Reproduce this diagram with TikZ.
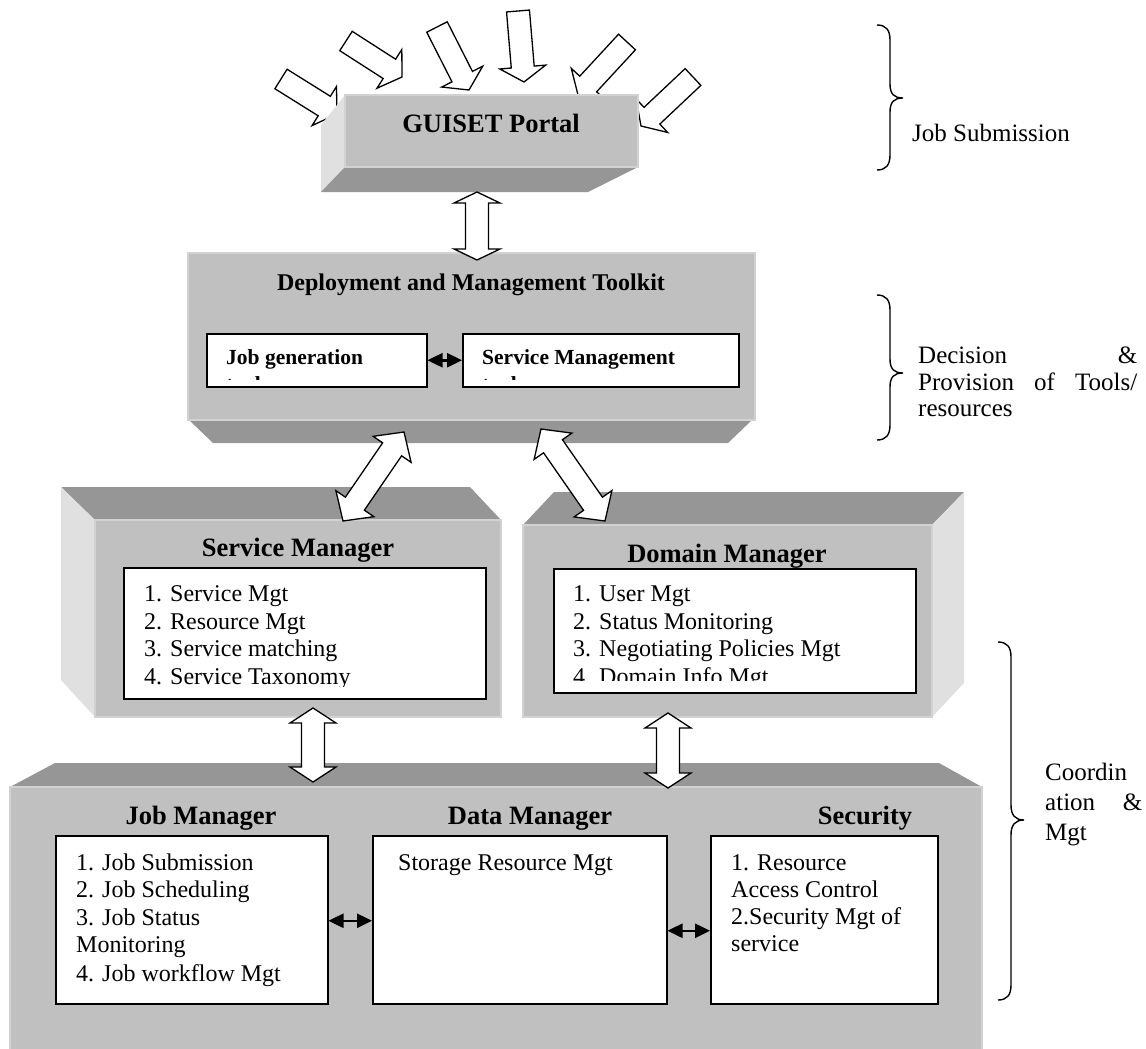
\documentclass[tikz,border=0pt]{standalone}
\usepackage{fontspec}
\setmainfont{Liberation Serif}
\usetikzlibrary{calc,arrows.meta}

\definecolor{facefront}{RGB}{192,192,192}
\definecolor{facedark}{RGB}{150,150,150}
\definecolor{facelight}{RGB}{224,224,224}
\definecolor{faceedge}{RGB}{210,210,210}

\tikzset{
  front/.style={fill=facefront, draw=faceedge, line width=1.2pt},
  darkface/.style={fill=facedark},
  lightface/.style={fill=facelight},
  listbox/.style={draw=black, fill=white, line width=1.5pt, inner sep=0pt, anchor=north west},
  blockarrow/.style={draw=black, fill=white, line width=1.3pt, line join=miter},
  linkarrow/.style={line width=2.5pt, {Triangle[length=15pt,width=14pt]}-{Triangle[length=15pt,width=14pt]}},
  brace/.style={line width=1.4pt},
  body/.style={font=\fontsize{24}{27.5}\selectfont, inner sep=0pt, anchor=base west},
  side/.style={font=\fontsize{25}{28}\selectfont, inner sep=0pt, anchor=base west},
  head/.style={font=\fontsize{26.5}{30}\selectfont\bfseries, inner sep=0pt, anchor=base},
  subhead/.style={font=\fontsize{21.5}{25}\selectfont\bfseries, inner sep=0pt, anchor=base west},
}

% single block arrow from a tail coordinate to a tip coordinate
\newcommand{\inarrow}[2]{%
  \coordinate (ah) at ($(#2)!15pt!(#1)$);
  \draw[blockarrow] ($(#1)!11.5pt!90:(#2)$) -- ($(ah)!11.5pt!90:(#2)$)
    -- ($(ah)!23pt!90:(#2)$) -- (#2) -- ($(ah)!23pt!-90:(#2)$)
    -- ($(ah)!11.5pt!-90:(#2)$) -- ($(#1)!11.5pt!-90:(#2)$) -- cycle;
}
% double-headed block arrow between two coordinates, #3 = head length
\newcommand{\twoway}[3]{%
  \coordinate (ha) at ($(#1)!#3!(#2)$);
  \coordinate (hb) at ($(#2)!#3!(#1)$);
  \draw[blockarrow] (#1) -- ($(ha)!23pt!90:(#2)$) -- ($(ha)!11.5pt!90:(#2)$)
    -- ($(hb)!11.5pt!-90:(#1)$) -- ($(hb)!23pt!-90:(#1)$) -- (#2)
    -- ($(hb)!23pt!90:(#1)$) -- ($(hb)!11.5pt!90:(#1)$)
    -- ($(ha)!11.5pt!-90:(#2)$) -- ($(ha)!23pt!-90:(#2)$) -- cycle;
}

\begin{document}
\begin{tikzpicture}[x=1pt,y=-1pt]
\useasboundingbox (0,0) rectangle (1146,1049);
\fill[white] (0,0) rectangle (1146,1049);

% ---- requests entering the portal ----
\coordinate (t1) at (281,79);  \coordinate (p1) at (337,114);
\coordinate (t2) at (346,41);  \coordinate (p2) at (402,77);
\coordinate (t3) at (437,27);  \coordinate (p3) at (469,90);
\coordinate (t4) at (518,11);  \coordinate (p4) at (524,82);
\coordinate (t5) at (627,42);  \coordinate (p5) at (578,95);
\coordinate (t6) at (693,77);  \coordinate (p6) at (641,126);
\inarrow{t1}{p1} \inarrow{t2}{p2} \inarrow{t3}{p3}
\inarrow{t4}{p4} \inarrow{t5}{p5} \inarrow{t6}{p6}

% ---- GUISET portal block ----
\fill[lightface] (321,125) -- (345,95) -- (345,167) -- (321,192) -- cycle;
\fill[darkface] (345,167) -- (638,167) -- (588,192) -- (321,192) -- cycle;
\draw[front] (345,95) rectangle (638,167);
\node[head] (portal) at (491,132) {GUISET Portal};

% ---- deployment and management toolkit ----
\fill[darkface] (189,420) -- (752,420) -- (728,443) -- (213,443) -- cycle;
\draw[front] (188,253) rectangle (755,420);
\node[head, font=\fontsize{24}{28}\selectfont\bfseries] (toolkit) at (471,290) {Deployment and Management Toolkit};
\node[listbox, minimum width=220pt, minimum height=53pt] (jobgen) at (206,333) {};
\node[listbox, minimum width=276pt, minimum height=53pt] (srvmgmt) at (462,333) {};
\begin{scope}
  \clip (206,333) rectangle (738,379.5);
  \node[subhead] (jobgenA) at (226,364) {Job generation};
  \node[subhead] (jobgenB) at (226,391) {tool};
  \node[subhead] (srvmgmtA) at (482,364) {Service Management};
  \node[subhead] (srvmgmtB) at (482,391) {tool};
\end{scope}
\draw[linkarrow] (jobgen.east) -- (srvmgmt.west);

\coordinate (pd1) at (477,192); \coordinate (pd2) at (477,260);
\twoway{pd1}{pd2}{11pt}

% ---- service manager ----
\fill[darkface] (61,487) -- (470,487) -- (501,520) -- (95,520) -- cycle;
\fill[lightface] (61,487) -- (95,520) -- (95,717) -- (61,680) -- cycle;
\draw[front] (95,520) rectangle (501,717);
\node[head] (svc) at (298,556) {Service Manager};
\node[listbox, minimum width=362pt, minimum height=131pt] (svclist) at (123,567) {};
\begin{scope}
  \clip (123,567) rectangle (485,686);
  \node[body] (s1) at (144,601) {1. Service Mgt};
  \node[body] (s2) at (144,629) {2. Resource Mgt};
  \node[body] (s3) at (144,656) {3. Service matching};
  \node[body] (s4) at (144,684) {4. Service Taxonomy};
\end{scope}

% ---- domain manager ----
\fill[darkface] (554,492) -- (964,492) -- (932,525) -- (523,525) -- cycle;
\fill[lightface] (932,525) -- (964,492) -- (964,683) -- (932,717) -- cycle;
\draw[front] (523,525) rectangle (932,717);
\node[head] (dom) at (727,562) {Domain Manager};
\node[listbox, minimum width=362pt, minimum height=124pt] (domlist) at (553,568) {};
\begin{scope}
  \clip (553,568) rectangle (915,680);
  \node[body] (d1) at (573,601) {1. User Mgt};
  \node[body] (d2) at (573,629) {2. Status Monitoring};
  \node[body] (d3) at (573,656) {3. Negotiating Policies Mgt};
  \node[body] (d4) at (573,684) {4. Domain Info Mgt};
\end{scope}

% toolkit <-> managers
\coordinate (ds1) at (404,432); \coordinate (ds2) at (343,521);
\twoway{ds1}{ds2}{21pt}
\coordinate (dd1) at (541,429); \coordinate (dd2) at (605,521);
\twoway{dd1}{dd2}{21pt}

% ---- coordination layer ----
\fill[darkface] (55,763) -- (939,763) -- (982,787) -- (10,787) -- cycle;
\draw[front] (10,787) rectangle (982,1060);

\node[head] (jobm) at (201,824) {Job Manager};
\node[head] (datam) at (530,824) {Data Manager};
\node[head] (secm) at (865,824) {Security};

\node[listbox, minimum width=272pt, minimum height=168pt] (joblist) at (55,835) {};
\node[listbox, minimum width=294pt, minimum height=168pt] (datalist) at (372,835) {};
\node[listbox, minimum width=227pt, minimum height=168pt] (seclist) at (710,835) {};

\node[body] (j1) at (76,870) {1. Job Submission};
\node[body] (j2) at (76,897) {2. Job Scheduling};
\node[body] (j3) at (76,925) {3. Job Status};
\node[body] (j4) at (76,952) {Monitoring};
\node[body] (j5) at (76,981) {4. Job workflow Mgt};

\node[body] (st1) at (398,870) {Storage Resource Mgt};

\node[body] (c1) at (731,870) {1. Resource};
\node[body] (c2) at (731,897) {Access Control};
\node[body] (c3) at (731,924) {2.Security Mgt of};
\node[body] (c4) at (731,951) {service};

\draw[linkarrow] ($(joblist.east)+(0,1)$) -- ($(datalist.west)+(0,1)$);
\draw[linkarrow] ($(datalist.east)+(0,11)$) -- ($(seclist.west)+(0,11)$);

% managers <-> coordination layer
\coordinate (sb1) at (313,708); \coordinate (sb2) at (313,782);
\twoway{sb1}{sb2}{15pt}
\coordinate (db1) at (668,713); \coordinate (db2) at (668,788);
\twoway{db1}{db2}{15pt}

% ---- layer braces and their labels ----
\draw[brace] (877,25) .. controls (886,25) and (890,30) .. (890,40) -- (890,84)
  .. controls (890,94) and (894,98) .. (903,98)
  .. controls (894,98) and (890,102) .. (890,112) -- (890,155)
  .. controls (890,165) and (886,170) .. (877,170);
\node[side] (lblsubmit) at (912,141) {Job Submission};

\draw[brace] (877,295) .. controls (886,295) and (890,300) .. (890,310) -- (890,359)
  .. controls (890,369) and (894,373) .. (903,373)
  .. controls (894,373) and (890,377) .. (890,387) -- (890,425)
  .. controls (890,435) and (886,440) .. (877,440);
\node[side] (lbldec1) at (918,363) {\hbox to 219pt{Decision\hfill\&}};
\node[side] (lbldec2) at (918,390) {\hbox to 219pt{Provision\hfill of\hfill Tools/}};
\node[side] (lbldec3) at (918,416) {resources};

\draw[brace] (998,642) .. controls (1007,642) and (1011,647) .. (1011,657) -- (1011,805)
  .. controls (1011,815) and (1015,820) .. (1024,820)
  .. controls (1015,820) and (1011,825) .. (1011,835) -- (1011,985)
  .. controls (1011,995) and (1007,1000) .. (998,1000);
\node[side] (lblco1) at (1045,780) {Coordin};
\node[side] (lblco2) at (1045,810) {\hbox to 97pt{ation\hfill\&}};
\node[side] (lblco3) at (1045,840) {Mgt};
\end{tikzpicture}
\end{document}
